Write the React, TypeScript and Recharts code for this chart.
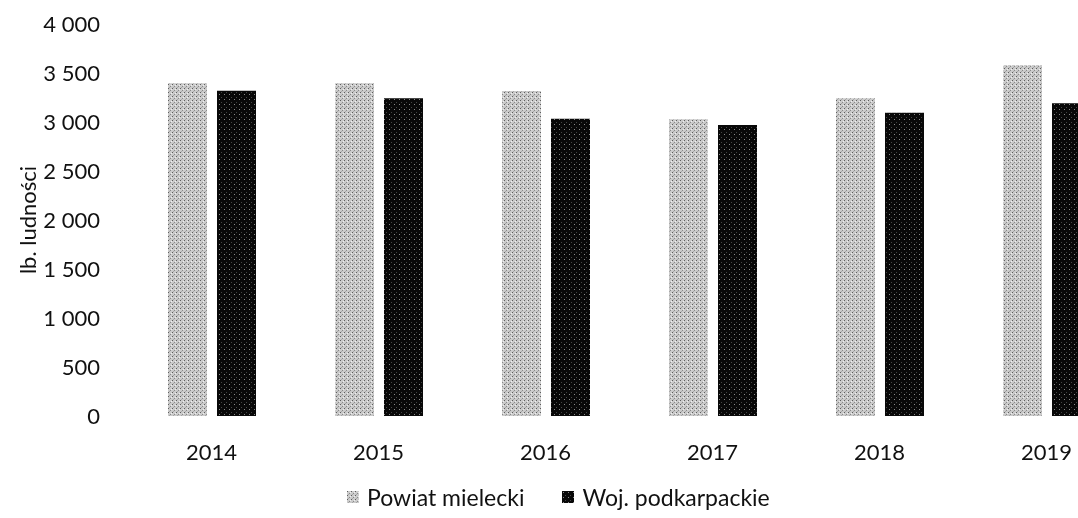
import { BarChart, Bar, XAxis, YAxis, Legend } from "recharts";

const YEARS = ["2014", "2015", "2016", "2017", "2018", "2019"];
const POWIAT = [3395, 3395, 3316, 3027, 3242, 3582];
const WOJ = [3319, 3242, 3034, 2969, 3095, 3191];
const Y_TICKS = [0, 500, 1000, 1500, 2000, 2500, 3000, 3500, 4000];

const SERIES = [
  { key: "powiat", name: "Powiat mielecki", fill: "url(#patLight)" },
  { key: "woj", name: "Woj. podkarpackie", fill: "url(#patDark)" },
];

const data = YEARS.map((year, i) => ({ year, powiat: POWIAT[i], woj: WOJ[i] }));

const FONT = "Lato, 'Open Sans', sans-serif";

const fmt = (v: number) => String(v).replace(/\B(?=(\d{3})+(?!\d))/g, " ");

function YTitle(props: any) {
  const vb = props.viewBox || { y: 0, height: 0 };
  const cy = vb.y + vb.height / 2;
  return (
    <text
      x={19}
      y={cy}
      transform={`rotate(-90 19 ${cy})`}
      textAnchor="middle"
      dominantBaseline="central"
      fontSize={22}
      fontFamily={FONT}
      fill="#111"
    >
      lb. ludności
    </text>
  );
}

function LegendBox() {
  return (
    <div
      style={{
        display: "flex",
        alignItems: "center",
        height: 24,
        marginLeft: 339,
        fontFamily: FONT,
        fontSize: 23,
        color: "#111",
      }}
    >
      {SERIES.map((s, i) => (
        <span
          key={s.key}
          style={{ display: "flex", alignItems: "center", marginRight: i === 0 ? 38 : 0 }}
        >
          <svg width={12} height={12} style={{ marginRight: 8 }}>
            <rect width={12} height={12} fill={s.fill} />
          </svg>
          {s.name}
        </span>
      ))}
    </div>
  );
}

export default function App() {
  // chart is wider than the window on purpose: the last bar is cut at the right edge
  return (
    <div
      style={{
        position: "fixed",
        left: 8,
        top: 8,
        width: 1070,
        height: 510,
        overflow: "hidden",
      }}
    >
      <BarChart
        width={1140}
        height={510}
        data={data}
        margin={{ top: 16, right: 18, left: 0, bottom: 9 }}
        barSize={39}
        barGap={10}
      >
        <defs>
          <pattern id="patLight" width={4} height={4} patternUnits="userSpaceOnUse">
            <rect width={4} height={4} fill="#cbcbcb" />
            <rect x={0} y={0} width={1} height={1} fill="#5e5e5e" />
            <rect x={2} y={2} width={1} height={1} fill="#8a8a8a" />
            <rect x={3} y={1} width={1} height={1} fill="#efefef" />
            <rect x={1} y={3} width={1} height={1} fill="#a8a8a8" />
          </pattern>
          <pattern id="patDark" width={5} height={5} patternUnits="userSpaceOnUse">
            <rect width={5} height={5} fill="#080808" />
            <rect x={1} y={1} width={1} height={1} fill="#8a8a8a" />
            <rect x={3} y={4} width={1} height={1} fill="#444" />
          </pattern>
        </defs>
        <XAxis
          dataKey="year"
          axisLine={false}
          tickLine={false}
          tickSize={0}
          tickMargin={28}
          height={69}
          tick={{ fontSize: 22, fontFamily: FONT, fill: "#111" }}
        />
        <YAxis
          width={120}
          domain={[0, 4000]}
          ticks={Y_TICKS}
          tickFormatter={fmt}
          axisLine={false}
          tickLine={false}
          tickSize={0}
          tickMargin={28}
          tick={{ fontSize: 22, fontFamily: FONT, fill: "#111" }}
          label={<YTitle />}
        />
        <Legend verticalAlign="bottom" align="left" height={24} content={<LegendBox />} />
        {SERIES.map((s) => (
          <Bar
            key={s.key}
            dataKey={s.key}
            name={s.name}
            fill={s.fill}
            isAnimationActive={false}
          />
        ))}
      </BarChart>
    </div>
  );
}
